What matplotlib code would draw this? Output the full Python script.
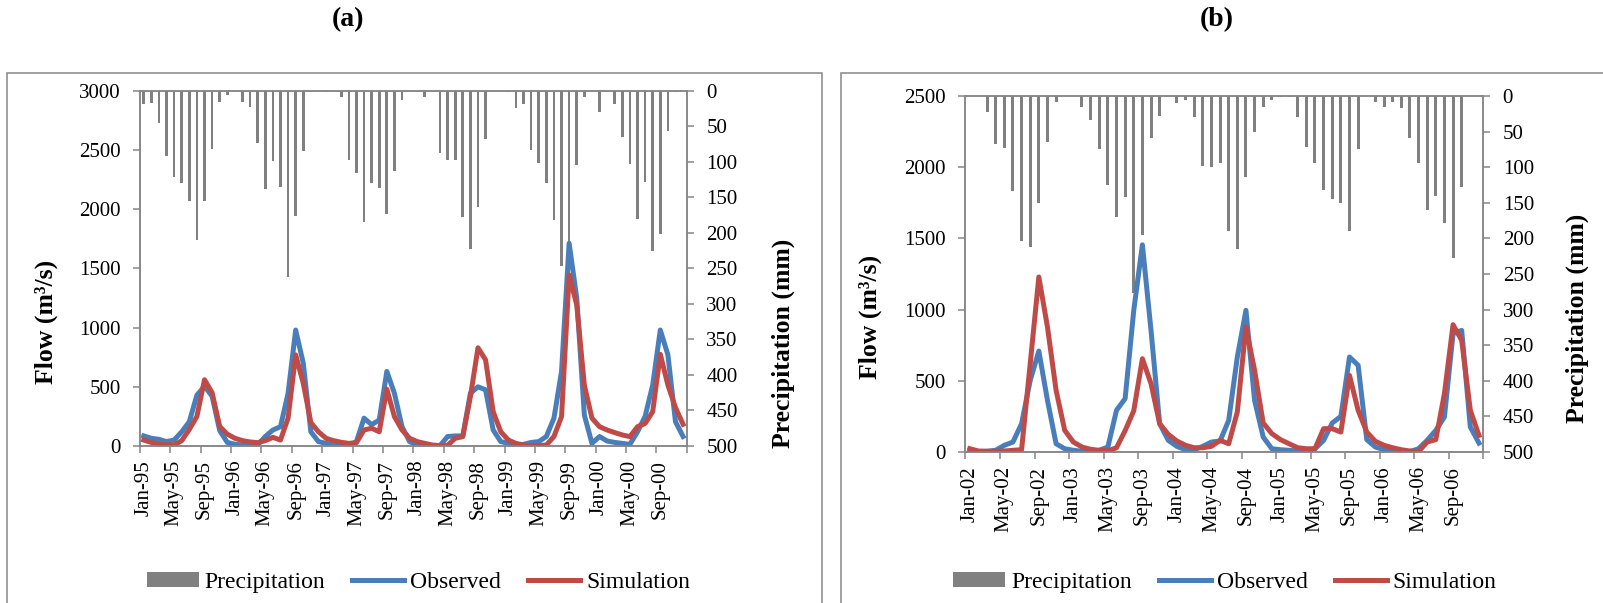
import numpy as np
import pandas as pd
import matplotlib
matplotlib.use("Agg")
import matplotlib.pyplot as plt
from matplotlib.patches import Rectangle, Patch
from matplotlib.lines import Line2D

plt.rcParams["font.family"] = "Liberation Serif"
plt.rcParams["font.size"] = 15

OBS_COLOR = "#4a7ebb"
SIM_COLOR = "#be4b48"
BAR_COLOR = "#808080"
AXIS_COLOR = "#868686"

# (a) calibration period, monthly Jan-1995 .. Dec-2000
months_a = pd.date_range("1995-01-01", periods=72, freq="MS")
precip_a = [18, 17, 45, 92, 121, 130, 155, 210, 155, 82, 16, 5,
            0, 15, 23, 73, 138, 99, 135, 262, 176, 84, 0, 0,
            2, 0, 9, 97, 115, 185, 130, 137, 173, 112, 12, 0,
            0, 8, 0, 87, 97, 97, 177, 222, 164, 68, 0, 0,
            1, 24, 18, 83, 102, 129, 182, 247, 225, 104, 9, 0,
            30, 0, 19, 65, 103, 180, 128, 225, 201, 56, 2, 0]
observed_a = [85, 65, 56, 37, 50, 120, 205, 430, 505, 420, 130, 30,
              15, 8, 5, 10, 80, 135, 163, 445, 980, 700, 120, 37,
              22, 8, 5, 5, 37, 235, 180, 220, 630, 445, 163, 37,
              8, 3, 3, 3, 80, 85, 85, 445, 500, 475, 135, 37,
              22, 8, 14, 30, 37, 80, 235, 630, 1713, 1250, 262, 22,
              80, 42, 30, 22, 14, 120, 250, 515, 980, 770, 205, 80]
simulated_a = [50, 30, 17, 10, 8, 45, 140, 250, 560, 450, 165, 100,
               65, 45, 34, 28, 45, 73, 50, 235, 770, 530, 197, 120,
               65, 45, 31, 22, 28, 135, 150, 120, 480, 248, 135, 65,
               37, 22, 8, 3, 5, 65, 79, 417, 830, 727, 290, 120,
               50, 22, 8, 3, 3, 8, 80, 248, 1445, 1192, 515, 235,
               163, 135, 113, 93, 79, 163, 190, 290, 775, 515, 324, 183]

# (b) validation period, monthly Jan-2002 .. Dec-2006
months_b = pd.date_range("2002-01-01", periods=60, freq="MS")
precip_b = [0, 0, 22, 68, 73, 133, 203, 212, 150, 64, 8, 0,
            0, 16, 34, 75, 125, 170, 142, 276, 195, 59, 28, 0,
            10, 5, 30, 99, 100, 94, 189, 215, 114, 50, 16, 6,
            2, 2, 30, 72, 94, 132, 145, 150, 189, 75, 0, 8,
            15, 9, 17, 59, 94, 160, 140, 178, 228, 128, 0, 0]
observed_b = [7, 3, 5, 12, 47, 70, 199, 503, 709, 363, 58, 23,
              12, 5, 3, 12, 35, 293, 375, 995, 1455, 854, 199, 82,
              40, 16, 16, 40, 70, 77, 222, 667, 995, 363, 105, 23,
              16, 12, 7, 7, 23, 82, 204, 250, 667, 609, 87, 35,
              16, 7, 3, 3, 23, 82, 152, 246, 831, 854, 176, 63]
simulated_b = [23, 7, 5, 5, 7, 12, 16, 620, 1229, 878, 433, 152,
               70, 35, 19, 12, 8, 30, 150, 290, 655, 480, 199, 124,
               77, 47, 30, 30, 40, 82, 58, 281, 878, 574, 204, 129,
               87, 58, 30, 23, 23, 164, 164, 140, 538, 293, 140, 75,
               47, 30, 16, 7, 3, 70, 87, 410, 894, 784, 293, 117]


def draw_panel(fig, rect, months, precip, observed, simulated, flow_max,
               flow_label_pos, precip_label_pos):
    ax = fig.add_axes(rect)
    ax2 = ax.twinx()
    x = np.arange(len(months))

    # precipitation hangs from the top on an inverted secondary axis
    ax2.bar(x, precip, width=0.35, color=BAR_COLOR, linewidth=0)
    ax2.set_ylim(500, 0)
    ax2.set_yticks(np.arange(0, 501, 50))

    ax.plot(x, observed, color=OBS_COLOR, lw=3.6, solid_joinstyle="round")
    ax.plot(x, simulated, color=SIM_COLOR, lw=3.6, solid_joinstyle="round")
    ax.set_zorder(ax2.get_zorder() + 1)
    ax.patch.set_visible(False)

    ax.set_xlim(-0.5, len(x) - 0.5)
    ax.set_ylim(0, flow_max)
    ax.set_yticks(np.arange(0, flow_max + 1, 500))
    ax.set_xticks(x[::4])
    ax.set_xticklabels(months[::4].strftime("%b-%y"), rotation=90, va="top")
    ax.set_xticks(np.arange(-0.5, len(x), 4), minor=True)
    ax.tick_params(axis="x", which="major", length=0, pad=10)
    ax.tick_params(axis="x", which="minor", length=5, width=1.1,
                   color=AXIS_COLOR)
    ax.tick_params(axis="y", length=5, width=1.1, color=AXIS_COLOR, pad=9)
    ax2.tick_params(axis="y", length=5, width=1.1, color=AXIS_COLOR, pad=9)

    for a in (ax, ax2):
        for sp in a.spines.values():
            sp.set_color(AXIS_COLOR)
            sp.set_linewidth(1.1)

    ax.text(flow_label_pos[0], flow_label_pos[1], "Flow (m³/s)",
            transform=ax.transAxes, rotation=90, ha="center", va="center",
            fontsize=18.5, fontweight="bold")
    ax.text(precip_label_pos[0], precip_label_pos[1], "Precipitation (mm)",
            transform=ax.transAxes, rotation=90, ha="center", va="center",
            fontsize=18.5, fontweight="bold")
    return ax


fig = plt.figure(figsize=(16.03, 6.03), dpi=100)

draw_panel(fig, [0.0873, 0.2604, 0.3412, 0.5887], months_a, precip_a,
           observed_a, simulated_a, 3000, (-0.172, 0.35), (1.176, 0.29))
draw_panel(fig, [0.6023, 0.2504, 0.3230, 0.5904], months_b, precip_b,
           observed_b, simulated_b, 2500, (-0.184, 0.38), (1.182, 0.376))

# panel frames
fig.add_artist(Rectangle((0.0044, -0.05), 0.5084, 0.929, transform=fig.transFigure,
                         fill=False, ec=AXIS_COLOR, lw=1.1))
fig.add_artist(Rectangle((0.5246, -0.05), 0.6, 0.929, transform=fig.transFigure,
                         fill=False, ec=AXIS_COLOR, lw=1.1))

fig.text(0.217, 0.967, "(a)", ha="center", va="center", fontsize=20,
         fontweight="bold")
fig.text(0.759, 0.967, "(b)", ha="center", va="center", fontsize=20,
         fontweight="bold")

handles = [Patch(facecolor=BAR_COLOR, edgecolor="none"),
           Line2D([], [], color=OBS_COLOR, lw=3.6),
           Line2D([], [], color=SIM_COLOR, lw=3.6)]
labels = ["Precipitation", "Observed", "Simulation"]
for cx in (0.261, 0.764):
    fig.legend(handles, labels, loc="center", bbox_to_anchor=(cx, 0.034),
               ncol=3, frameon=False, fontsize=17, handlelength=2.2,
               handleheight=0.6, handletextpad=0.25, columnspacing=1.15)

fig.savefig("out.png", dpi=100)
